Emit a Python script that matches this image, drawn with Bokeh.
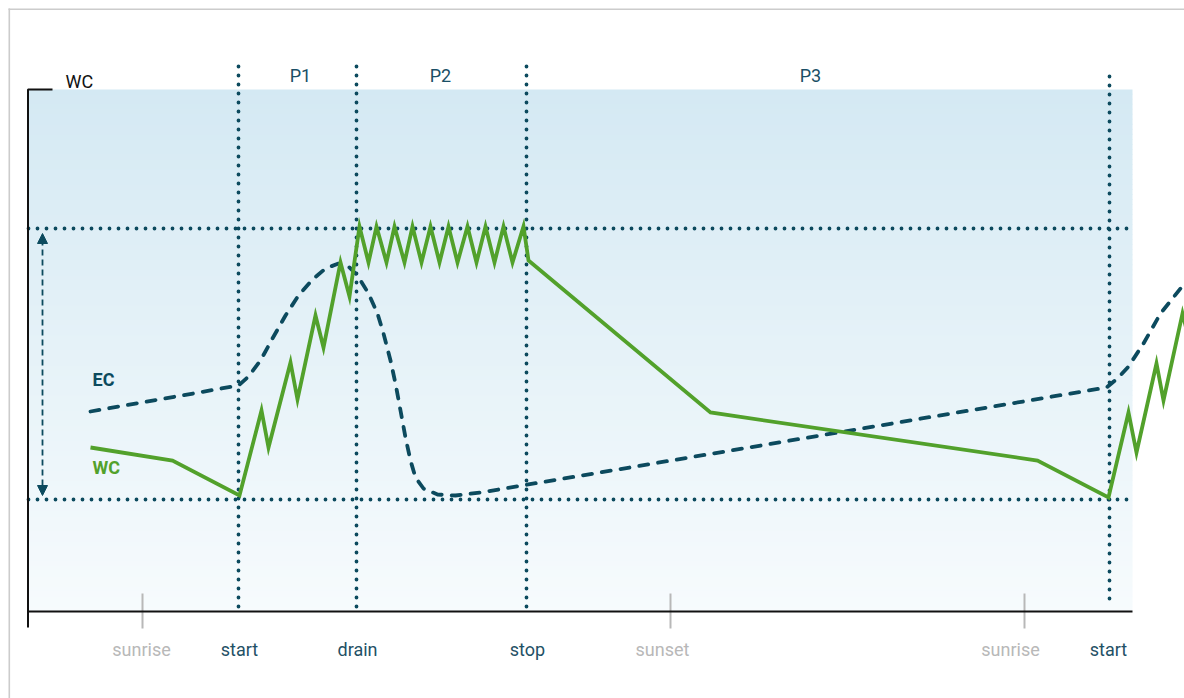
from bokeh.plotting import figure
from bokeh.models import Range1d, Arrow, NormalHead, ColumnDataSource
from bokeh.core.properties import value
from bokeh.embed import file_html
from bokeh.resources import INLINE

# ---------------- data (time along the day, relative WC / EC level) ----------------
wc_t = [62, 144, 211, 233, 240, 262, 269, 287, 295, 312, 321,
        331, 340, 348, 358, 366, 376, 384, 393, 402, 411, 420, 429, 439, 448, 457, 466, 475, 484, 495,
        500, 682, 1009, 1080, 1100, 1108, 1128, 1135, 1154, 1162]
wc_v = [164, 151, 116, 201, 164, 249, 212, 296, 264, 349, 315,
        385, 349, 385, 349, 385, 349, 385, 349, 385, 349, 385, 349, 385, 349, 385, 349, 385, 349, 385,
        351, 199, 151, 114, 199, 159, 248, 211, 298, 266]

ec_t = [62, 210, 220, 232, 244, 257, 270, 284, 297, 310, 320, 329, 340, 349, 355, 362, 367, 372,
        377, 382, 387, 395, 409, 427, 452, 1078, 1090, 1100, 1115, 1132, 1156, 1167]
ec_v = [200, 226, 235, 251, 273, 296, 316, 332, 343, 348, 345, 336, 318, 298, 278, 251, 228, 201,
        174, 151, 134, 123, 117, 116, 119, 224, 234, 245, 268, 298, 328, 343]

event_names = ["sunrise", "start", "drain", "stop", "sunset", "sunrise", "start"]
event_label_t = [113, 211, 329, 499, 634, 982, 1080]
event_is_sun = [True, False, False, False, True, True, False]
sun_t = [114, 642, 996]
irr_t = [210, 328, 498, 1081]
irr_top = [545, 545, 545, 535]
phase_names = ["P1", "P2", "P3"]
phase_t = [272, 412, 782]
wc_high = 383
wc_low = 112
axis_top = 522
axis_end = 1104

# ---------------- styles ----------------
TEAL = "#0c4a5e"
GREEN = "#52a12b"
GREY = "#b8b8b8"
FONT = "Roboto"
FS = value("18px")

p = figure(width=1184, height=698, output_backend="svg", toolbar_location=None,
           x_range=Range1d(-28, 1156), y_range=Range1d(-87, 611),
           x_axis_type=None, y_axis_type=None, min_border=0)
p.outline_line_color = None
p.background_fill_color = "white"
p.border_fill_color = "white"

# gradient background (strips)
n = 104
top_c = (212, 233, 243)
bot_c = (247, 251, 253)
bottoms, tops, cols = [], [], []
for i in range(n):
    b = axis_top * i / n
    t = axis_top * (i + 1) / n
    f = (i + 0.5) / n
    c = tuple(int(round(bot_c[k] + (top_c[k] - bot_c[k]) * f)) for k in range(3))
    bottoms.append(b)
    tops.append(min(t + 0.8, axis_top))
    cols.append("#%02x%02x%02x" % c)
p.quad(left=0, right=axis_end, bottom=bottoms, top=tops, fill_color=cols, line_color=None)

# frame border (left + top)
p.segment(x0=[-19.2, -20], y0=[603, 602.2], x1=[-19.2, 1156], y1=[-87, 602.2],
          line_color="#cccccc", line_width=1.6)

# threshold dotted lines
p.segment(x0=[0, 0], y0=[wc_high, wc_low], x1=[1100, 1100], y1=[wc_high, wc_low],
          line_color=TEAL, line_width=3.8, line_dash="0 9", line_cap="round")
# irrigation event dotted lines
p.segment(x0=irr_t, y0=irr_top, x1=irr_t, y1=[4] * len(irr_t),
          line_color=TEAL, line_width=3.8, line_dash="0 9", line_cap="round")

# sun ticks
p.segment(x0=sun_t, y0=[18] * 3, x1=sun_t, y1=[-17] * 3, line_color=GREY, line_width=2)

# axes
p.line(x=[24, -0.5, -0.5], y=[axis_top, axis_top, -16], line_color="#111111", line_width=2)
p.line(x=[-0.5, axis_end], y=[0, 0], line_color="#111111", line_width=2.2)

# double arrow
p.add_layout(Arrow(start=NormalHead(size=10, fill_color=TEAL, line_color=TEAL, line_width=1),
                   end=NormalHead(size=10, fill_color=TEAL, line_color=TEAL, line_width=1),
                   x_start=14, y_start=wc_low + 4, x_end=14, y_end=wc_high - 5,
                   line_color=TEAL, line_width=1.8, line_dash="6 4"))

# EC and WC curves
p.line(x=ec_t, y=ec_v, line_color=TEAL, line_width=3.8, line_dash="9 10", line_cap="round")
p.line(x=wc_t, y=wc_v, line_color=GREEN, line_width=3.8, line_join="miter")

# texts
p.text(x=[37], y=[530], text=["WC"], text_font=value(FONT), text_font_size=FS,
       text_color="#111111", text_align="left", text_baseline="alphabetic")
p.text(x=phase_t, y=[536] * 3, text=phase_names, text_font=value(FONT),
       text_font_size=FS, text_color="#1a4f66", text_align="center",
       text_baseline="alphabetic")
p.text(x=[64], y=[232], text=["EC"], text_font=value(FONT), text_font_size=FS,
       text_font_style="bold", text_color=TEAL, text_align="left", text_baseline="alphabetic")
p.text(x=[64], y=[144], text=["WC"], text_font=value(FONT), text_font_size=FS,
       text_font_style="bold", text_color=GREEN, text_align="left", text_baseline="alphabetic")

ev_src = ColumnDataSource(dict(x=event_label_t, y=[-38] * len(event_names), text=event_names,
                               color=[GREY if s else "#1f5166" for s in event_is_sun]))
p.text(x="x", y="y", text="text", text_color="color", source=ev_src, text_font=value(FONT),
       text_font_size=FS, text_align="center", text_baseline="alphabetic")

open("out.html", "w").write(file_html(p, INLINE))
